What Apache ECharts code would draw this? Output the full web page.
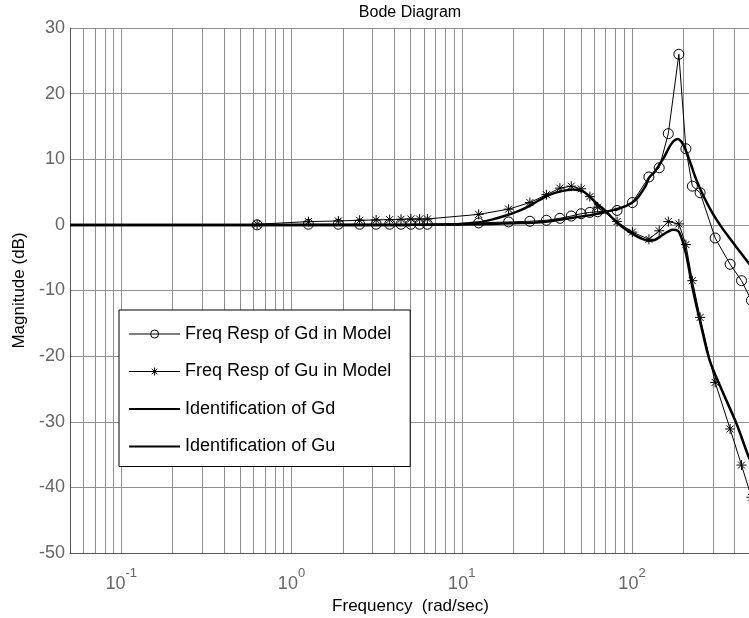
<!DOCTYPE html>
<html>
<head>
<meta charset="utf-8">
<script src="https://cdn.jsdelivr.net/npm/echarts@6/dist/echarts.min.js"></script>
<style>
  html, body { margin: 0; padding: 0; background: #fff; }
  #bodePlot { width: 749px; height: 618px; }
</style>
</head>
<body>
<div id="bodePlot"></div>
<script>
// frequencies (rad/sec) of the model points
const freqModel = [0.628, 1.257, 1.885, 2.513, 3.142, 3.770, 4.398, 5.027, 5.655, 6.283,
  12.57, 18.85, 25.13, 31.42, 37.70, 43.98, 50.27, 56.55, 62.83, 81.7, 100.5,
  125.7, 144.5, 163.4, 188.5, 207.3, 226.2, 251.3, 307.9, 377.0, 439.8, 502.7];
const gdModel = [0, 0.1, 0.1, 0.1, 0.1, 0.1, 0.1, 0.1, 0.1, 0.1,
  0.3, 0.45, 0.55, 0.7, 1.0, 1.35, 1.7, 1.9, 2.0, 2.2, 3.4,
  7.3, 8.7, 13.9, 26.0, 11.6, 5.9, 4.9, -2.0, -6.0, -8.5, -11.5];
const guModel = [0.1, 0.5, 0.6, 0.7, 0.75, 0.8, 0.85, 0.9, 0.9, 0.9,
  1.6, 2.4, 3.4, 4.6, 5.6, 5.9, 5.5, 4.3, 2.7, 0.5, -1.1,
  -2.2, -0.9, 0.5, 0.15, -3.0, -8.5, -14.1, -24.0, -31.1, -36.6, -41.5];

// identified responses
const freqIdGd = [0.05, 1, 5, 10, 15, 20, 28.7, 45, 60, 70.7, 92.6, 106, 116, 121, 126, 136,
  145, 155, 166, 176, 186, 196, 206, 222, 238.5, 265, 297, 335, 374, 425, 484, 500];
const gdIdent = [0, 0, 0, 0.05, 0.15, 0.25, 0.4, 1.1, 1.6, 2.0, 2.9, 3.9, 5.3, 6.1, 7.2, 8.1,
  9.2, 10.4, 11.9, 12.8, 13.1, 12.6, 11.5, 9.2, 6.9, 4.2, 1.8, -0.3, -2.0, -3.9, -5.8, -6.3];

const freqIdGu = [0.05, 1, 5, 8, 10, 12.4, 15, 18.6, 22, 25, 28.7, 33, 38, 45, 51.5, 56, 61.8,
  70.7, 77, 84.6, 92, 101.3, 112, 124.1, 135.8, 151.9, 165, 173.9, 186, 192, 198.5, 208.4,
  227.9, 255.2, 285.5, 340, 409.6, 483.5, 500];
const guIdent = [0, 0, 0, 0.05, 0.15, 0.35, 0.8, 1.5, 2.2, 2.9, 3.8, 4.6, 5.1, 5.4, 5.1, 4.4, 3.3,
  2.0, 1.0, 0.0, -0.7, -1.4, -2.0, -2.4, -2.3, -1.5, -0.95, -0.76, -0.9, -1.5, -2.5, -4.6,
  -9.9, -15.5, -20.6, -25.4, -30.2, -35.3, -36.0];

const seriesNames = ["Freq Resp of Gd in Model", "Freq Resp of Gu in Model",
  "Identification of Gd", "Identification of Gu"];

const decades = [0.01, 0.1, 1, 10, 100];
const xMin = 0.05, xMax = 500;

const FONT = "'Liberation Sans', Arial, Helvetica, sans-serif";
const GRID_COLOR = "#8f8f8f";

const pairs = (xs, ys) => xs.map((x, i) => [x, ys[i]]);

// vertical log grid lines (1..9 per decade)
const vLines = [];
for (const d of decades) {
  for (let m = 1; m <= 9; m++) {
    const v = +(d * m).toPrecision(3);
    if (v > xMin && v <= xMax) vLines.push({ xAxis: v });
  }
}

const starPath = "path://M10,0L10,20M0,10L20,10M3,3L17,17M3,17L17,3";

const chartDom = document.getElementById("bodePlot");
const myChart = echarts.init(chartDom, null, { renderer: "canvas" });

const option = {
  animation: false,
  backgroundColor: "#fff",
  textStyle: { fontFamily: FONT },
  title: {
    text: "Bode Diagram",
    left: 410,
    top: 5,
    padding: 0,
    textAlign: "center",
    textStyle: { fontFamily: FONT, fontSize: 16, fontWeight: "normal", color: "#000" },
  },
  grid: { left: 70, right: -2, top: 28, bottom: 65, containLabel: false, outerBoundsMode: "none" },
  legend: {
    orient: "vertical",
    left: 119,
    top: 310,
    padding: [15, 19, 11, 9],
    itemGap: 19.5,
    itemWidth: 51,
    itemHeight: 10,
    backgroundColor: "#fff",
    borderColor: "#000",
    borderWidth: 1,
    borderRadius: 0,
    textStyle: { fontFamily: FONT, fontSize: 18, color: "#000" },
    data: [
      { name: seriesNames[0], lineStyle: { width: 1, color: "#000" },
        itemStyle: { color: "transparent", borderColor: "#000", borderWidth: 1 } },
      { name: seriesNames[1], lineStyle: { width: 1, color: "#000" },
        itemStyle: { color: "transparent", borderColor: "#000", borderWidth: 1 } },
      { name: seriesNames[2], lineStyle: { width: 2.2, color: "#000" },
        itemStyle: { opacity: 0 } },
      { name: seriesNames[3], lineStyle: { width: 2.2, color: "#000" },
        itemStyle: { opacity: 0 } },
    ],
  },
  xAxis: {
    type: "log",
    logBase: 10,
    min: xMin,
    max: xMax,
    name: "Frequency  (rad/sec)",
    nameLocation: "middle",
    nameGap: 45,
    nameTextStyle: { fontFamily: FONT, fontSize: 17, color: "#000" },
    axisLine: { show: true, onZero: false, lineStyle: { color: "#555", width: 1 } },
    axisTick: { show: false },
    splitLine: { show: false },
    axisLabel: {
      showMinLabel: false,
      showMaxLabel: false,
      margin: 14,
      formatter: (v) => {
        const e = Math.round(Math.log10(v));
        if (Math.abs(Math.log10(v) - e) > 1e-6) return "";
        return "{b|10}{s|" + e + "}";
      },
      rich: {
        b: { fontFamily: FONT, fontSize: 18, color: "#666", lineHeight: 26, verticalAlign: "bottom" },
        s: { fontFamily: FONT, fontSize: 13, color: "#666", lineHeight: 26, verticalAlign: "top" },
      },
    },
  },
  yAxis: {
    type: "value",
    min: -50,
    max: 30,
    interval: 10,
    name: "Magnitude (dB)",
    nameLocation: "middle",
    nameGap: 40,
    nameTextStyle: { fontFamily: FONT, fontSize: 17, color: "#000" },
    axisLine: { show: true, onZero: false, lineStyle: { color: "#555", width: 1 } },
    axisTick: { show: false },
    axisLabel: { fontFamily: FONT, fontSize: 18, color: "#666", margin: 5 },
    splitLine: { show: true, lineStyle: { color: GRID_COLOR, width: 1 } },
  },
  series: [
    {
      name: "grid",
      type: "line",
      data: [[1, 0]],
      symbol: "none",
      silent: true,
      z: 1,
      lineStyle: { opacity: 0 },
      markLine: {
        silent: true,
        z: 1,
        symbol: ["none", "none"],
        label: { show: false },
        emphasis: { disabled: true },
        lineStyle: { type: "solid", color: GRID_COLOR, width: 1 },
        data: vLines,
      },
    },
    {
      name: seriesNames[0],
      type: "line",
      z: 10,
      clip: false,
      data: pairs(freqModel, gdModel),
      symbol: "circle",
      symbolSize: 10,
      lineStyle: { color: "#000", width: 1 },
      itemStyle: { color: "transparent", borderColor: "#000", borderWidth: 1 },
    },
    {
      name: seriesNames[1],
      type: "line",
      z: 10,
      clip: false,
      data: pairs(freqModel, guModel),
      symbol: starPath,
      symbolSize: 10,
      lineStyle: { color: "#000", width: 1 },
      itemStyle: { color: "transparent", borderColor: "#000", borderWidth: 1 },
    },
    {
      name: seriesNames[2],
      type: "line",
      z: 11,
      data: pairs(freqIdGd, gdIdent),
      symbol: "none",
      smooth: 0.3,
      lineStyle: { color: "#000", width: 2.5 },
      itemStyle: { color: "#000" },
    },
    {
      name: seriesNames[3],
      type: "line",
      z: 11,
      data: pairs(freqIdGu, guIdent),
      symbol: "none",
      smooth: 0.3,
      lineStyle: { color: "#000", width: 2.5 },
      itemStyle: { color: "#000" },
    },
  ],
};

option && myChart.setOption(option);
</script>
</body>
</html>
